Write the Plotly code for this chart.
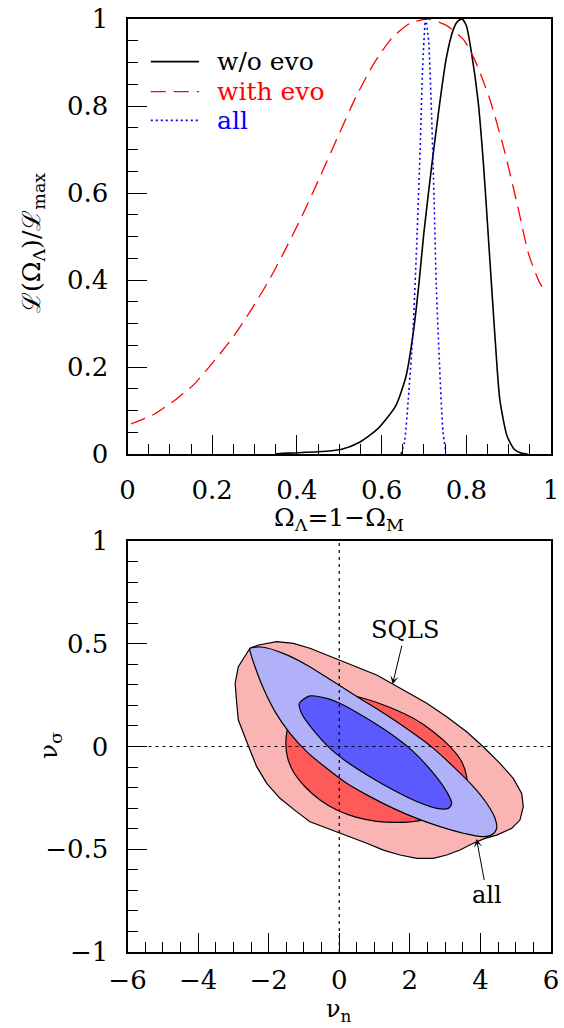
import plotly.graph_objects as go

# ---------------- top panel: normalised likelihood of Omega_Lambda ----------------
noevo_x = [0.35, 0.378, 0.45, 0.506, 0.548, 0.59, 0.633, 0.658, 0.675, 0.688, 0.70, 0.718,
           0.735, 0.752, 0.769, 0.78, 0.79, 0.80, 0.811, 0.828, 0.841, 0.854, 0.867, 0.879,
           0.896, 0.913, 0.93, 0.945]
noevo_y = [0.0, 0.002, 0.005, 0.011, 0.027, 0.057, 0.11, 0.18, 0.28, 0.39, 0.51, 0.66,
           0.79, 0.906, 0.975, 0.995, 1.0, 0.985, 0.93, 0.81, 0.66, 0.47, 0.28, 0.126,
           0.042, 0.011, 0.002, 0.0]

evo_x = [0.008, 0.064, 0.115, 0.157, 0.208, 0.251, 0.293, 0.331, 0.369, 0.412, 0.455, 0.497,
         0.54, 0.582, 0.624, 0.667, 0.709, 0.752, 0.794, 0.82, 0.854, 0.888, 0.922, 0.947,
         0.973, 0.99]
evo_y = [0.069, 0.092, 0.126, 0.16, 0.218, 0.271, 0.333, 0.394, 0.463, 0.547, 0.638, 0.73,
         0.822, 0.898, 0.956, 0.99, 1.0, 0.986, 0.952, 0.906, 0.82, 0.705, 0.567, 0.46,
         0.394, 0.37]

all_x = [0.646, 0.654, 0.663, 0.674, 0.684, 0.691, 0.697, 0.704, 0.711, 0.718, 0.724, 0.729,
         0.737, 0.745, 0.752]
all_y = [0.0, 0.027, 0.126, 0.28, 0.51, 0.70, 0.89, 1.0, 0.95, 0.78, 0.585, 0.39,
         0.2, 0.05, 0.004]

# ---------------- bottom panel: nu_n / nu_sigma confidence regions ----------------
sqls_outer_x = [-2.53, -2.29, -1.77, -1.30, -0.83, -0.355, 0.115, 0.588, 1.06, 1.49, 1.91,
                2.48, 3.045, 3.61, 4.08, 4.555, 4.93, 5.17, 5.215, 5.12, 4.89, 4.46, 4.13,
                3.80, 3.42, 3.045, 2.665, 2.195, 1.72, 1.25, 0.78, 0.305, 0.02, -0.355,
                -0.83, -1.21, -1.68, -2.055, -2.34, -2.53, -2.72, -2.86, -2.905, -2.95,
                -2.86, -2.62, -2.53]
sqls_outer_y = [0.478, 0.494, 0.51, 0.502, 0.478, 0.445, 0.413, 0.381, 0.348, 0.307, 0.267,
                0.21, 0.145, 0.072, -0.001, -0.082, -0.155, -0.228, -0.293, -0.358, -0.398,
                -0.431, -0.447, -0.471, -0.504, -0.528, -0.544, -0.544, -0.528, -0.504,
                -0.471, -0.439, -0.422, -0.398, -0.366, -0.317, -0.252, -0.179, -0.098,
                -0.017, 0.064, 0.129, 0.21, 0.308, 0.388, 0.453, 0.478]

sqls_inner_x = [0.115, 0.78, 1.44, 2.10, 2.665, 3.14, 3.47, 3.61, 3.61, 3.47, 3.19, 2.76,
                2.195, 1.63, 1.06, 0.495, -0.07, -0.545, -0.97, -1.30, -1.47, -1.51, -1.44,
                -1.21, -0.83, -0.355, 0.115]
sqls_inner_y = [0.255, 0.23, 0.19, 0.137, 0.072, -0.001, -0.074, -0.147, -0.204, -0.26,
                -0.309, -0.341, -0.363, -0.369, -0.364, -0.345, -0.309, -0.26, -0.196,
                -0.123, -0.05, 0.032, 0.096, 0.145, 0.194, 0.235, 0.255]

all_outer_x = [-2.53, -2.15, -1.585, -0.923, -0.168, 0.588, 1.343, 2.099, 2.666, 3.233,
               3.799, 4.177, 4.413, 4.46, 4.319, 4.036, 3.516, 2.855, 2.194, 1.532, 0.871,
               0.21, -0.357, -0.923, -1.396, -1.821, -2.151, -2.387, -2.51, -2.53]
all_outer_y = [0.478, 0.483, 0.453, 0.397, 0.316, 0.234, 0.153, 0.064, -0.009, -0.098,
               -0.195, -0.276, -0.349, -0.398, -0.43, -0.439, -0.422, -0.39, -0.35, -0.301,
               -0.244, -0.179, -0.106, -0.025, 0.064, 0.17, 0.283, 0.388, 0.453, 0.478]

all_inner_x = [-1.13, -0.829, -0.357, 0.116, 0.777, 1.438, 2.099, 2.666, 3.044, 3.185, 3.091,
               2.76, 2.194, 1.532, 0.871, 0.21, -0.262, -0.734, -1.065, -1.13]
all_inner_y = [0.21, 0.246, 0.234, 0.202, 0.137, 0.064, -0.025, -0.13, -0.22, -0.276, -0.301,
               -0.301, -0.268, -0.212, -0.147, -0.074, -0.009, 0.08, 0.161, 0.21]

# tick positions and labels
top_ticks = [0, 0.2, 0.4, 0.6, 0.8, 1]
top_labels = ["0", "0.2", "0.4", "0.6", "0.8", "1"]
nun_ticks = [-6, -4, -2, 0, 2, 4, 6]
nun_labels = ["\u22126", "\u22124", "\u22122", "0", "2", "4", "6"]
nus_ticks = [-1, -0.5, 0, 0.5, 1]
nus_labels = ["\u22121", "\u22120.5", "0", "0.5", "1"]

# panel placement (paper fractions)
W, H = 564, 1028
X_DOM = [127.5 / W, 551 / W]
TOP_DOM = [1 - 454 / H, 1 - 19 / H]
BOT_DOM = [1 - 952 / H, 1 - 541 / H]

SERIF = "DejaVu Serif"
TICK_FONT = dict(family=SERIF, size=26, color="black")
TITLE_FONT = dict(family=SERIF, size=25, color="black")

fig = go.Figure()

# top panel curves
fig.add_trace(go.Scatter(x=noevo_x, y=noevo_y, mode="lines", name="w/o evo",
                         line=dict(color="black", width=1.6, shape="spline", smoothing=0.6),
                         xaxis="x", yaxis="y"))
fig.add_trace(go.Scatter(x=evo_x, y=evo_y, mode="lines", name="with evo",
                         line=dict(color="#ff0000", width=1.3, dash="15px,8px",
                                   shape="spline", smoothing=0.6),
                         xaxis="x", yaxis="y"))
fig.add_trace(go.Scatter(x=all_x, y=all_y, mode="lines", name="all",
                         line=dict(color="#0000ff", width=1.6, dash="2px,3px",
                                   shape="spline", smoothing=0.6),
                         xaxis="x", yaxis="y"))

# bottom panel filled regions
regions = [
    (sqls_outer_x, sqls_outer_y, "#fbb4b4", "linear"),
    (sqls_inner_x, sqls_inner_y, "#ff5a5a", "spline"),
    (all_outer_x, all_outer_y, "#b1b1fa", "spline"),
    (all_inner_x, all_inner_y, "#5a5aff", "spline"),
]
for rx, ry, col, shp in regions:
    fig.add_trace(go.Scatter(x=rx, y=ry, mode="lines", fill="toself", fillcolor=col,
                             line=dict(color="black", width=1.2, shape=shp, smoothing=0.8),
                             xaxis="x2", yaxis="y2", hoverinfo="skip"))


def tick_axis(rng, vals, minor_step, labels=None, **extra):
    """Framed axis with inward major/minor ticks; labels only when given."""
    ax = dict(
        range=rng, tickvals=vals, ticks="inside", ticklen=19, tickwidth=1.3,
        tickcolor="black", showgrid=False, zeroline=False, automargin=False,
        showline=True, linecolor="black", linewidth=2,
        minor=dict(dtick=minor_step, ticks="inside", ticklen=10, tickwidth=1.3,
                   tickcolor="black", showgrid=False),
    )
    if labels is None:
        ax.update(showticklabels=False)
    else:
        ax.update(ticktext=labels, tickfont=TICK_FONT, mirror=True)
    ax.update(extra)
    return ax


fig.update_layout(
    width=W, height=H,
    margin=dict(l=0, r=0, t=0, b=0),
    paper_bgcolor="white", plot_bgcolor="white",
    showlegend=False,
    xaxis=tick_axis([0, 1], top_ticks, 0.05, top_labels, domain=X_DOM, anchor="y",
                    ticklabelstandoff=12),
    yaxis=tick_axis([0, 1], top_ticks, 0.05, top_labels, domain=TOP_DOM, anchor="x",
                    ticklabelstandoff=12),
    xaxis2=tick_axis([-6, 6], nun_ticks, 0.5, nun_labels, domain=X_DOM, anchor="y2",
                     ticklabelstandoff=4),
    yaxis2=tick_axis([-1, 1], nus_ticks, 0.1, nus_labels, domain=BOT_DOM, anchor="x2",
                     ticklabelstandoff=12),
    # tick marks on the top and right frame edges
    xaxis3=tick_axis([0, 1], top_ticks, 0.05, overlaying="x", anchor="y", side="top"),
    yaxis3=tick_axis([0, 1], top_ticks, 0.05, overlaying="y", anchor="x", side="right"),
    xaxis4=tick_axis([-6, 6], nun_ticks, 0.5, overlaying="x2", anchor="y2", side="top"),
    yaxis4=tick_axis([-1, 1], nus_ticks, 0.1, overlaying="y2", anchor="x2", side="right"),
)

# dotted reference lines through the origin of the bottom panel
fig.add_shape(type="line", xref="x2", yref="y2", x0=0, x1=0, y0=-1, y1=1, layer="above",
              line=dict(color="black", width=1.2, dash="3px,4px"))
fig.add_shape(type="line", xref="x2", yref="y2", x0=-6, x1=6, y0=0, y1=0, layer="above",
              line=dict(color="black", width=1.2, dash="3px,4px"))

# hand-drawn legend in the top panel
legend_rows = [
    ("w/o evo", "black", "solid", 1.6, 0.902),
    ("with evo", "#ff0000", "15px,8px", 1.3, 0.833),
    ("all", "#0000ff", "2px,3px", 1.6, 0.767),
]
for label, col, dash, lw, ly in legend_rows:
    fig.add_shape(type="line", xref="x", yref="y", x0=0.055, x1=0.169, y0=ly, y1=ly,
                  line=dict(color=col, width=lw, dash=dash))
    fig.add_annotation(x=0.207, y=ly, xref="x", yref="y", text=label, showarrow=False,
                       xanchor="left", yanchor="middle",
                       font=dict(family=SERIF, size=25, color=col))

# region labels with arrows
label_font = dict(family=SERIF, size=24, color="black")
fig.add_annotation(x=1.51, y=0.303, ax=1.88, ay=0.566, xref="x2", yref="y2",
                   axref="x2", ayref="y2", text="SQLS", showarrow=True, arrowhead=3,
                   arrowsize=1.4, arrowwidth=1, arrowcolor="black", font=label_font)
fig.add_annotation(x=3.89, y=-0.45, ax=4.19, ay=-0.725, xref="x2", yref="y2",
                   axref="x2", ayref="y2", text="all", showarrow=True, arrowhead=3,
                   arrowsize=1.4, arrowwidth=1, arrowcolor="black", font=label_font)

# axis titles, centred on the given pixel positions
axis_titles = [
    ("\u2112(\u03a9<sub>\u039b</sub>)/\u2112<sub>max</sub>", 33, 243, -90, 25),
    ("\u03a9<sub>\u039b</sub>=1\u2212\u03a9<sub>M</sub>", 339, 519, 0, 25),
    ("\u03bd<sub>\u03c3</sub>", 50, 746, -90, 25),
    ("\u03bd<sub>n</sub>", 339, 1010, 0, 24),
]
for text, px, py, ang, fs in axis_titles:
    fig.add_annotation(x=px / W, y=1 - py / H, xref="paper", yref="paper", showarrow=False,
                       xanchor="center", yanchor="middle", text=text, textangle=ang,
                       font=dict(TITLE_FONT, size=fs))

fig.write_html("out.html")
